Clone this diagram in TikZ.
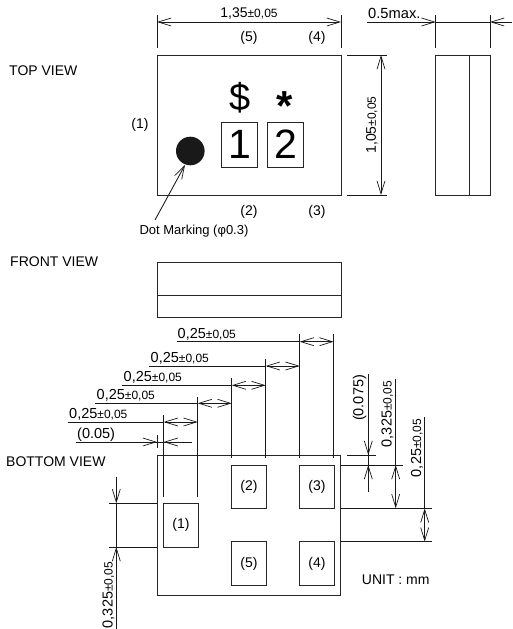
\documentclass[tikz,border=0pt]{standalone}
\usepackage{fontspec}
\setmainfont{Liberation Sans}
\usetikzlibrary{arrows.meta}
\newcommand{\fsz}[1]{\fontsize{#1}{#1}\selectfont}
\newcommand{\tol}[2][14.5]{{\fsz{#1}#2}{\fsz{12}±0,05}}
\tikzset{
  part/.style={draw=black!85,line width=0.9pt,fill=none},
  thin line/.style={draw=black!90,line width=0.85pt},
  vee/.tip={Straight Barb[length=13pt,width=8pt,line width=0.7pt]},
  dimboth/.style={thin line,vee-vee},
  dimend/.style={thin line,-vee},
  lbl/.style={inner sep=0pt,font=\fsz{14}},
  vert/.style={inner sep=0pt,rotate=90},
  ttl/.style={inner sep=0pt,anchor=west,font=\fsz{14}},
}
\begin{document}
\begin{tikzpicture}[x=1pt,y=-1pt]
\useasboundingbox (0,0) rectangle (512,629);
% TOP VIEW
\node[ttl] (t1) at (9,71) {TOP VIEW};
\node[part,minimum width=184pt,minimum height=140pt,inner sep=0pt] (top) at (249,125) {};
\node[lbl] (p5) at (249,38) {(5)};
\node[lbl] (p4) at (317,38) {(4)};
\node[lbl] (p2) at (249,212) {(2)};
\node[lbl] (p3) at (317,212) {(3)};
\node[lbl] (p1) at (140,125) {(1)};
\node[inner sep=0pt,font=\fsz{38}] (dollar) at (240,97.5) {\$};
\node[inner sep=0pt,font=\fsz{42}\bfseries] (star) at (285,106.4) {*};
\node[part,minimum width=36pt,minimum height=45pt,inner sep=0pt,font=\fsz{41}] (d1) at (239.7,144.5) {1};
\node[part,minimum width=36pt,minimum height=45pt,inner sep=0pt,font=\fsz{41}] (d2) at (285.5,144.5) {2};
\node[circle,fill=black!90,minimum size=28.6pt,inner sep=0pt] (dot) at (190.3,151) {};
\node[inner sep=0pt,font=\fsz{13}] (dm) at (194,231.5) {Dot Marking (φ0.3)};
\coordinate (dmf) at (155,220);
\coordinate (dmt) at (185,165);
\draw[dimend] (dmf) -- (dmt);
% top dims
\draw[thin line] (157,15) -- (157,48) (341,15) -- (341,48);
\coordinate (a1) at (157,22); \coordinate (a2) at (341,22);
\draw[dimboth] (a1) -- (a2);
\node[inner sep=0pt] (w) at (249,14) {\tol[14]{1,35}};
\draw[thin line] (347,55) -- (387,55) (347,195) -- (387,195);
\coordinate (b1) at (381,55); \coordinate (b2) at (381,195);
\draw[dimboth] (b1) -- (b2);
\node[vert] (h) at (372,125) {\tol[14]{1,05}};
% side view
\node[part,minimum width=54.5pt,minimum height=140pt,inner sep=0pt] (side) at (463,125) {};
\draw[part] (469.7,55) -- (469.7,195);
\draw[thin line] (435.7,15) -- (435.7,48) (490,15) -- (490,48);
\coordinate (c0) at (367,22); \coordinate (c1) at (435.7,22);
\coordinate (c2) at (512,22); \coordinate (c3) at (490,22);
\draw[dimend] (c0) -- (c1);
\draw[thin line] (c1) -- (c3);
\draw[dimend] (c2) -- (c3);
\node[inner sep=0pt,anchor=base west,font=\fsz{14.7}] (mx) at (368,19) {0.5max.};
% FRONT VIEW
\node[ttl] (t2) at (10,262) {FRONT VIEW};
\node[part,minimum width=184pt,minimum height=55pt,inner sep=0pt] (front) at (249,289.5) {};
\draw[part] (157,295) -- (341,295);
% BOTTOM VIEW
\node[ttl] (t3) at (6,462) {BOTTOM VIEW};
\node[part,minimum width=183.5pt,minimum height=140pt,inner sep=0pt] (bot) at (249,525) {};
\tikzset{pad/.style={part,minimum width=34.5pt,minimum height=43.5pt,inner sep=0pt,font=\fsz{14}}}
\node[pad] (q1) at (181,525.2) {(1)};
\node[pad] (q2) at (248.9,486.8) {(2)};
\node[pad] (q3) at (317,486.8) {(3)};
\node[pad] (q5) at (248.9,563.5) {(5)};
\node[pad] (q4) at (317,563.5) {(4)};
% vertical extension lines
\draw[thin line] (163.7,415) -- (163.7,497);
\draw[thin line] (197.7,397) -- (197.7,497);
\draw[thin line] (231.7,378) -- (231.7,458);
\draw[thin line] (265.7,359) -- (265.7,458);
\draw[thin line] (299.7,334) -- (299.7,458);
\draw[thin line] (333.7,334) -- (333.7,458);
% stepped dims
\draw[thin line] (176.7,341.7) -- (299.7,341.7);
\draw[dimboth] (299.7,341.7) -- (333.7,341.7);
\draw[thin line] (149,366) -- (265.7,366);
\draw[dimboth] (265.7,366) -- (299.7,366);
\draw[thin line] (122,385.3) -- (231.7,385.3);
\draw[dimboth] (231.7,385.3) -- (265.7,385.3);
\draw[thin line] (95,403.3) -- (197.7,403.3);
\draw[dimboth] (197.7,403.3) -- (231.7,403.3);
\draw[thin line] (68,422) -- (163.7,422);
\draw[dimboth] (163.7,422) -- (197.7,422);
\node[inner sep=0pt,anchor=base west] (s5) at (177.5,338) {\tol{0,25}};
\node[inner sep=0pt,anchor=base west] (s4) at (150.5,362) {\tol{0,25}};
\node[inner sep=0pt,anchor=base west] (s3) at (123.5,381) {\tol{0,25}};
\node[inner sep=0pt,anchor=base west] (s2) at (96.5,399.5) {\tol{0,25}};
\node[inner sep=0pt,anchor=base west] (s1) at (69,418.5) {\tol{0,25}};
% (0.05)
\draw[thin line] (157,435) -- (157,448);
\draw[thin line] (76,442) -- (191.7,442);
\coordinate (e1) at (143,442); \coordinate (e2) at (157,442);
\coordinate (e3) at (178,442); \coordinate (e4) at (163.7,442);
\draw[dimend] (e1) -- (e2);
\draw[dimend] (e3) -- (e4);
\node[inner sep=0pt,anchor=base west,font=\fsz{14.5}] (s0) at (77,438) {(0.05)};
% right dims
\draw[thin line] (347,455) -- (376,455);
\draw[thin line] (340.7,465) -- (402.7,465);
\draw[thin line] (340.7,508.3) -- (432,508.3);
\draw[thin line] (340.7,541.7) -- (432,541.7);
\draw[thin line] (368.3,374) -- (368.3,491.7);
\coordinate (f1) at (368.3,440); \coordinate (f2) at (368.3,455);
\coordinate (f3) at (368.3,480); \coordinate (f4) at (368.3,465);
\draw[dimend] (f1) -- (f2);
\draw[dimend] (f3) -- (f4);
\node[vert,font=\fsz{14.5}] (r0) at (359.5,398) {(0.075)};
\draw[thin line] (395.7,379.3) -- (395.7,465);
\draw[dimboth] (395.7,465) -- (395.7,508.3);
\node[vert] (r1) at (387.5,414) {\tol{0,325}};
\draw[thin line] (424.7,417.3) -- (424.7,508.3);
\draw[dimboth] (424.7,508.3) -- (424.7,541.7);
\node[vert] (r2) at (417,448) {\tol{0,25}};
% left dim
\draw[thin line] (109.3,503.3) -- (157,503.3);
\draw[thin line] (109.3,547) -- (157,547);
\coordinate (g1) at (116.3,476.7); \coordinate (g2) at (116.3,503.3);
\coordinate (g3) at (116.3,629); \coordinate (g4) at (116.3,547);
\draw[dimend] (g1) -- (g2);
\draw[thin line] (g2) -- (g4);
\draw[dimend] (g3) -- (g4);
\node[vert] (l1) at (108.5,595) {\tol{0,325}};
\node[inner sep=0pt,anchor=west,font=\fsz{14}] (u) at (361.7,580) {UNIT : mm};
\end{tikzpicture}
\end{document}
